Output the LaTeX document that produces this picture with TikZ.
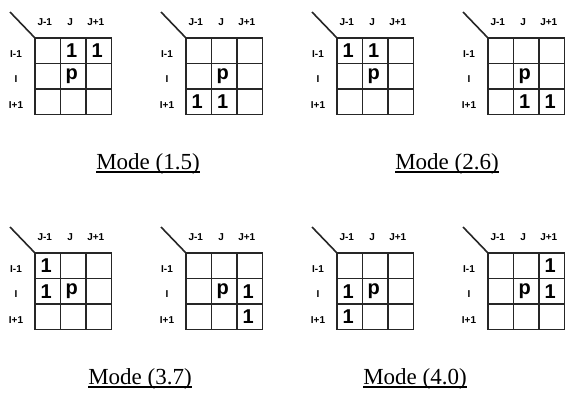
\documentclass[tikz,border=0pt]{standalone}
\usepackage{fontspec}
\setmainfont{Liberation Serif}
\newfontfamily\gridfont{Liberation Sans}
\usepackage{tikz}
\usetikzlibrary{positioning}

% one 3x3 neighbourhood: #1 name, #2 top left corner, #3 filled cells
\newcommand{\modegrid}[3]{%
  \begin{scope}[shift={#2}]
    \foreach \row in {1,2,3}
      \foreach \col in {1,2,3}
        \node[cell] (#1-\row\col) at ({(\col-0.5)*25.5},{(\row-0.5)*25.5}) {};
    \coordinate (#1-tip) at (-25,-26);
    \draw[gridline] (#1-tip) -- (#1-11.north west);
    \node[colhead] at (#1-11.north) {J-1};
    \node[colhead] at (#1-12.north) {J};
    \node[colhead] at (#1-13.north) {J+1};
    \node[rowhead] at (#1-11.west) {I-1};
    \node[rowhead] at (#1-21.west) {I};
    \node[rowhead] at (#1-31.west) {I+1};
    \foreach \cellname/\val in {#3}
      \node[entry] at (#1-\cellname) {\val};
  \end{scope}}

\begin{document}
\begin{tikzpicture}[x=1pt,y=-1pt,
        gridline/.style={line width=1.6pt,black!85},
        cell/.style={draw,line width=1.6pt,black!85,minimum size=25.5pt,inner sep=0pt,outer sep=0pt},
        entry/.style={font=\gridfont\bfseries\fontsize{20}{20}\selectfont,xshift=-1.5pt},
        colhead/.style={font=\gridfont\bfseries\fontsize{10}{10}\selectfont,yshift=16pt,xshift=-3pt},
        rowhead/.style={font=\gridfont\bfseries\fontsize{10}{10}\selectfont,xshift=-19pt,yshift=-3pt},
        caption/.style={font=\fontsize{23}{23}\selectfont,anchor=base,inner sep=0pt,
          append after command={([yshift=-3pt]\tikzlastnode.base west)
            edge[line width=1.4pt] ([yshift=-3pt]\tikzlastnode.base east)}}]

  \useasboundingbox (0,0) rectangle (565,392);

  % top row
  \modegrid{a}{(35,38)}{12/1,13/1,22/p}
  \modegrid{b}{(186,38)}{22/p,31/1,32/1}
  \modegrid{c}{(337,38)}{11/1,12/1,22/p}
  \modegrid{d}{(488,38)}{22/p,32/1,33/1}

  % bottom row
  \modegrid{e}{(35,253)}{11/1,21/1,22/p}
  \modegrid{f}{(186,253)}{22/p,23/1,33/1}
  \modegrid{g}{(337,253)}{21/1,22/p,31/1}
  \modegrid{h}{(488,253)}{13/1,22/p,23/1}

  \node[caption] (mode15) at (148,169) {Mode (1.5)};
  \node[caption] (mode26) at (447,169) {Mode (2.6)};
  \node[caption] (mode37) at (140,384) {Mode (3.7)};
  \node[caption] (mode40) at (415,384) {Mode (4.0)};

\end{tikzpicture}
\end{document}
